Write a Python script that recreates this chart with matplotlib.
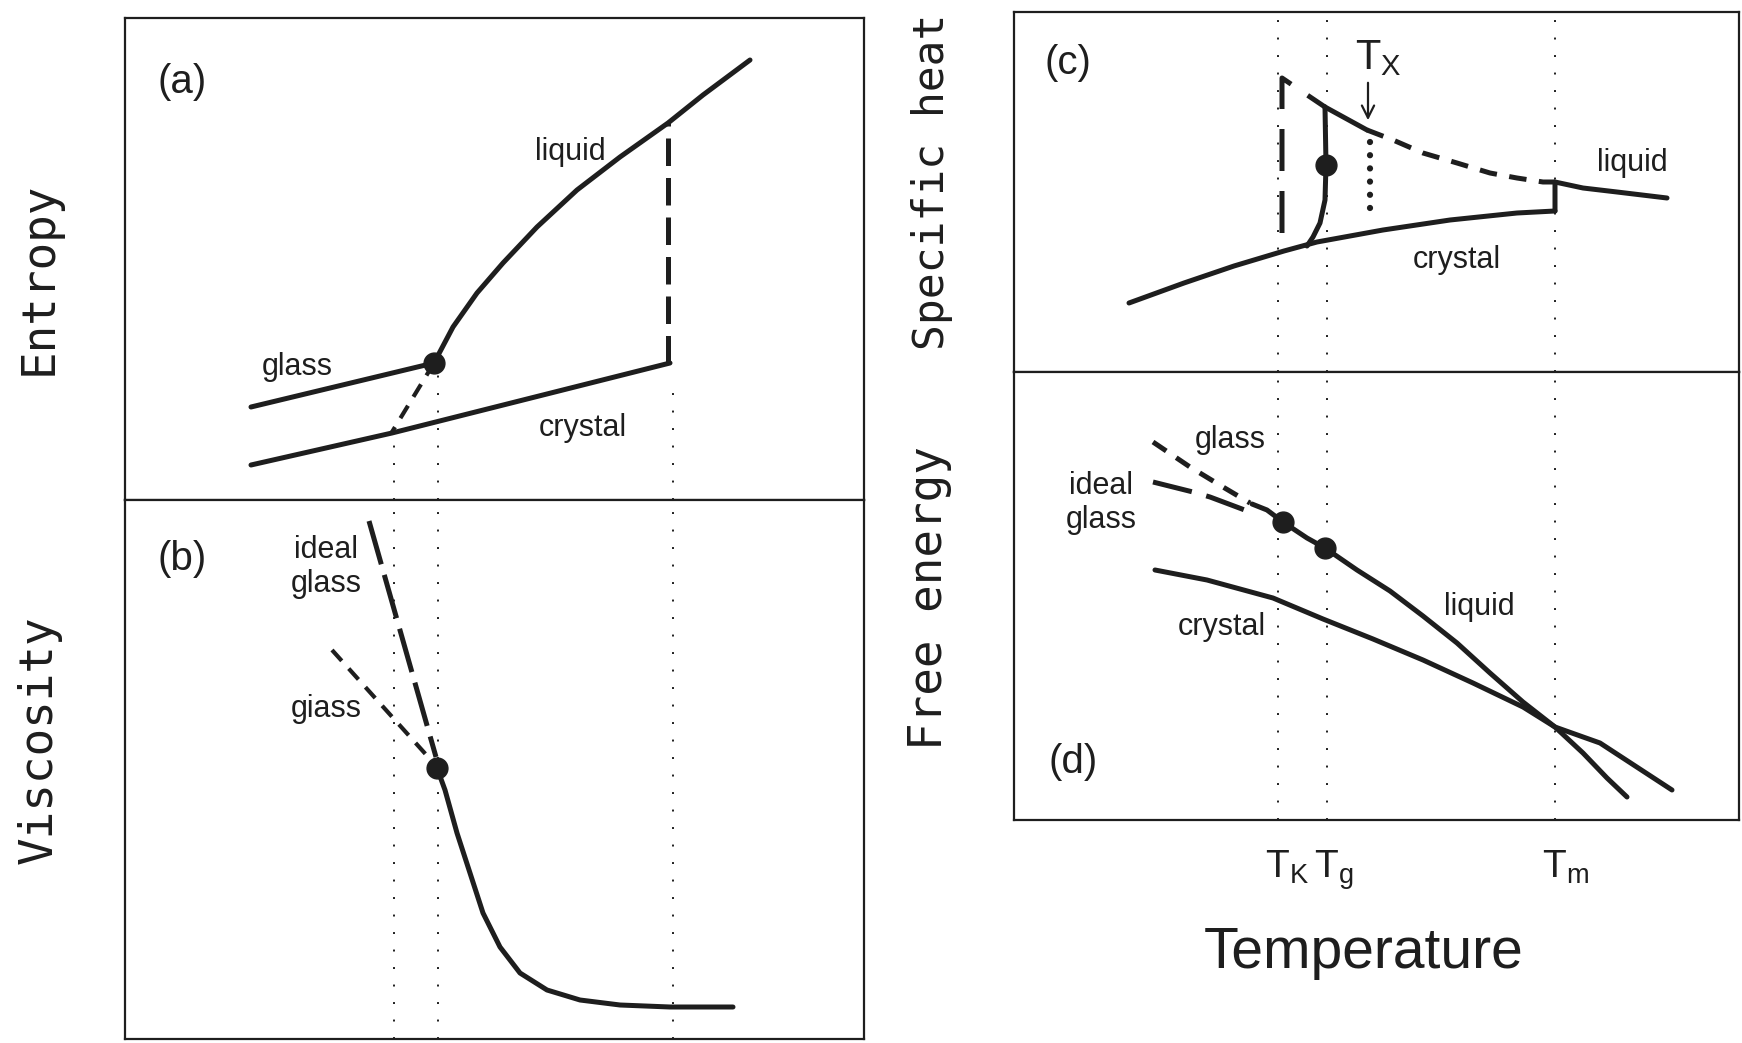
import matplotlib
matplotlib.use('Agg')
import matplotlib.pyplot as plt

plt.rcParams['font.family'] = ['Liberation Sans', 'DejaVu Sans']
plt.rcParams['mathtext.fontset'] = 'custom'
plt.rcParams['mathtext.rm'] = 'Liberation Sans'
plt.rcParams['mathtext.it'] = 'Liberation Sans'

W, H = 1742, 1043
INK = '#1e1e1e'

# temperature marks (arbitrary units, left column and right column)
TL = [269, 313, 548]      # T_K, T_g, T_m for (a), (b)
TR = [264, 313, 541]      # T_K, T_g, T_m for (c), (d)

# (a) entropy
a_glass_T = [126, 309]
a_glass_S = [93, 137]
a_liq_T = [309, 328, 352, 378, 412, 452, 495, 543, 578, 625]
a_liq_S = [137, 173, 207, 237, 273, 310, 343, 377, 405, 440]
a_cry_T = [126, 267, 545]
a_cry_S = [35, 67, 137]
a_super_T = [309, 267]
a_super_S = [137, 68]
a_melt_S = [137, 377]
a_drop_top = [67, 125, 110]

# (b) viscosity
b_ideal_T = [244, 311]
b_ideal_V = [518, 282]
b_glass_T = [207, 305]
b_glass_V = [389, 280]
b_visc_T = [312, 320, 332, 345, 358, 375, 395, 422, 455, 495, 545, 608]
b_visc_V = [271, 249, 206, 166, 126, 92, 66, 49, 39, 34, 32, 32]

# (c) specific heat
c_cry_T = [115, 170, 220, 270, 303, 369, 436, 503, 541]
c_cry_C = [69, 89, 106, 121, 130, 142, 152, 159, 161]
c_liq_T = [541, 541, 569, 603, 653]
c_liq_C = [161, 190, 184, 180, 174]
c_super_T = [353, 379, 409, 443, 476, 503, 529, 541]
c_super_C = [242, 232, 219, 209, 199, 194, 190, 190]
c_peak_T = [311, 353]
c_peak_C = [265, 242]
c_glass_T = [311, 312, 311, 306, 299, 293]
c_glass_C = [265, 207, 172, 149, 135, 126]
c_ideal_T = [268, 268, 311]
c_ideal_C = [139, 294, 265]
c_tx_T = 356
c_tx_C = [230, 152]

# (d) free energy
d_glass_T = [139, 176, 209, 236]
d_glass_G = [378, 353, 333, 317]
d_ideal_T = [139, 179, 196, 236]
d_ideal_G = [338, 328, 323, 308]
d_join_T = [238, 253, 269, 293, 311]
d_join_G = [316, 310, 298, 282, 272]
d_liq_T = [311, 343, 376, 409, 443, 476, 509, 541, 569, 593, 613]
d_liq_G = [272, 250, 229, 204, 177, 147, 118, 93, 67, 42, 23]
d_cry_T = [141, 193, 259, 309, 359, 409, 459, 509, 541, 586, 658]
d_cry_G = [250, 240, 222, 201, 181, 160, 137, 113, 93, 77, 30]

fig = plt.figure(figsize=(W / 100, H / 100), dpi=100)


def panel(x0, y0, x1, y1):
    ax = fig.add_axes([x0 / W, 1 - y1 / H, (x1 - x0) / W, (y1 - y0) / H])
    ax.set_xlim(0, x1 - x0)
    ax.set_ylim(0, y1 - y0)
    ax.set_xticks([])
    ax.set_yticks([])
    for s in ax.spines.values():
        s.set_linewidth(1.6)
        s.set_color(INK)
    return ax


ax_a = panel(125, 18, 864, 500)
ax_b = panel(125, 500, 864, 1039)
ax_c = panel(1014, 12, 1739, 372)
ax_d = panel(1014, 372, 1739, 820)

solid = dict(color=INK, lw=3.6, solid_capstyle='round', solid_joinstyle='round')
dot = dict(marker='o', ms=15, color=INK, zorder=5)
thin_dots = dict(color=INK, lw=1.4, ls=(0, (1, 8)))
long_dash = (0, (5.5, 2.4))
short_dash = (0, (3.5, 2.5))
lab = dict(fontsize=22, color=INK, ha='center', va='center')
tag = dict(fontsize=29, color=INK, ha='center', va='center')

# ---- (a)
for t, top in zip(TL, a_drop_top):
    ax_a.plot([t, t], [0, top], **thin_dots)
ax_a.plot(a_glass_T, a_glass_S, **solid)
ax_a.plot(a_liq_T, a_liq_S, **solid)
ax_a.plot(a_cry_T, a_cry_S, **solid)
ax_a.plot(a_super_T, a_super_S, color=INK, lw=3, ls=short_dash)
ax_a.plot([a_cry_T[-1] - 2] * 2, a_melt_S, color=INK, lw=3.6, ls=long_dash)
ax_a.plot(a_glass_T[-1], a_glass_S[-1], **dot)
ax_a.text(57, 418, '(a)', **tag)
ax_a.text(172, 133, 'glass', **lab)
ax_a.text(445, 348, 'liquid', **lab)
ax_a.text(458, 72, 'crystal', **lab)

# ---- (b)
for t in TL:
    ax_b.plot([t, t], [0, 539], **thin_dots)
ax_b.plot(b_ideal_T, b_ideal_V, color=INK, lw=3.6, ls=(0, (9, 2.2)))
ax_b.plot(b_glass_T, b_glass_V, color=INK, lw=3, ls=short_dash)
ax_b.plot(b_visc_T, b_visc_V, **solid)
ax_b.plot(b_visc_T[0], b_visc_V[0], **dot)
ax_b.text(57, 480, '(b)', **tag)
ax_b.text(201, 472, 'ideal\nglass', linespacing=1.15, **lab)
ax_b.text(201, 330, 'giass', **lab)

# ---- (c)
for t in TR:
    ax_c.plot([t, t], [0, 360], **thin_dots)
ax_c.plot(c_cry_T, c_cry_C, **solid)
ax_c.plot(c_liq_T, c_liq_C, **solid)
ax_c.plot(c_super_T, c_super_C, color=INK, lw=3.6, ls=short_dash)
ax_c.plot(c_peak_T, c_peak_C, **solid)
ax_c.plot(c_glass_T, c_glass_C, **solid)
ax_c.plot(c_ideal_T, c_ideal_C, color=INK, lw=3.6, ls=(0, (8.4, 4)))
ax_c.plot([c_tx_T, c_tx_T], c_tx_C, color=INK, lw=4.5, ls=(0, (0.01, 2.1)),
          dash_capstyle='round')
ax_c.plot(c_glass_T[1], c_glass_C[1], **dot)
ax_c.annotate('', xy=(c_tx_T - 2, 249), xytext=(c_tx_T - 2, 292),
              arrowprops=dict(arrowstyle='->', color=INK, lw=1.6,
                              mutation_scale=22))
ax_c.text(364, 314, r'T$_\mathregular{X}$', fontsize=30, color=INK,
          ha='center', va='center')
ax_c.text(54, 309, '(c)', **tag)
ax_c.text(618, 209, 'liquid', **lab)
ax_c.text(443, 112, 'crystal', **lab)

# ---- (d)
for t in TR:
    ax_d.plot([t, t], [0, 448], **thin_dots)
ax_d.plot(d_glass_T, d_glass_G, color=INK, lw=3.6, ls=(0, (3.2, 2.4)))
ax_d.plot(d_ideal_T, d_ideal_G, color=INK, lw=3.6, ls=(0, (8, 3)))
ax_d.plot(d_join_T, d_join_G, **solid)
ax_d.plot(d_liq_T, d_liq_G, **solid)
ax_d.plot(d_cry_T, d_cry_G, **solid)
ax_d.plot([d_join_T[2], d_join_T[4]], [d_join_G[2], d_join_G[4]], ls='none', **dot)
ax_d.text(59, 58, '(d)', **tag)
ax_d.text(216, 380, 'glass', **lab)
ax_d.text(87, 317, 'ideal\nglass', linespacing=1.15, **lab)
ax_d.text(465, 213, 'liquid', **lab)
ax_d.text(208, 193, 'crystal', **lab)

# temperature marks under (d)
for t, sub in zip(TR, ['K', 'g', 'm']):
    ax_d.text(t - 13, -58, r'T$_\mathregular{%s}$' % sub, fontsize=28,
              color=INK, ha='left', va='baseline', clip_on=False)
ax_d.text(350, -148, 'Temperature', fontsize=41, color=INK, ha='center',
          va='baseline', clip_on=False)

# property labels
ylab = dict(rotation=90, ha='center', va='center', color=INK,
            family='DejaVu Sans Mono')
fig.text(39 / W, 1 - 278 / H, 'Entropy', fontsize=33, **ylab)
fig.text(39 / W, 1 - 740 / H, 'Viscosity', fontsize=33, **ylab)
fig.text(932 / W, 1 - 182 / H, 'Specific heat', fontsize=31, **ylab)
fig.text(930 / W, 1 - 598 / H, 'Free energy', fontsize=33, **ylab)

fig.savefig('out.png', dpi=100)
